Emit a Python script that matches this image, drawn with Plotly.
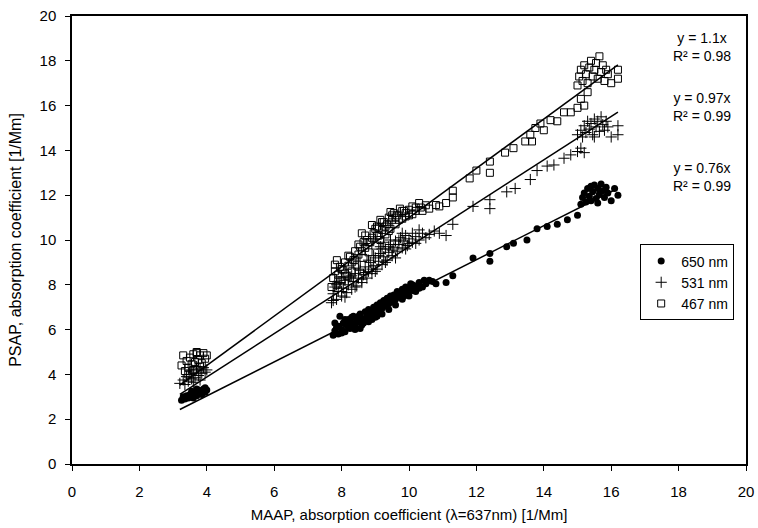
import plotly.graph_objects as go

# ---- data ----
x650 = [3.25, 3.35, 3.45, 3.5, 3.6, 3.65, 3.7, 3.75, 3.8, 3.85, 3.9, 3.95, 4.0, 3.55, 3.4, 3.3, 3.85, 3.7, 3.6, 3.95,
        7.75, 7.8, 7.85, 7.9, 7.95, 8.0, 8.05, 8.1, 8.15, 8.2, 8.25, 8.3, 8.35, 8.4, 8.45, 8.5, 8.55, 8.6, 8.65, 8.7,
        8.75, 8.8, 8.85, 8.9, 8.95, 9.0, 9.05, 9.1, 9.15, 9.2, 9.25, 9.3, 9.35, 9.4, 9.45, 9.5, 9.55, 9.6, 9.65, 9.7,
        9.75, 9.8, 9.85, 9.9, 9.95, 10.0, 10.05, 10.1, 10.2, 10.3, 10.4, 10.5, 10.6, 10.8, 11.1, 11.3, 11.9, 12.4,
        12.4, 12.9, 13.1, 13.5, 13.8, 14.1, 14.4, 14.7, 15.0,
        15.1, 15.15, 15.2, 15.25, 15.3, 15.35, 15.4, 15.45, 15.5, 15.55, 15.6, 15.65, 15.7, 15.75, 15.8, 15.85, 15.9,
        16.0, 16.1, 16.2, 15.4, 15.6,
        7.8, 7.9, 8.0, 8.1, 8.2, 8.3, 8.4, 8.5, 8.6, 8.7, 8.8, 8.9, 9.0, 9.1, 9.2, 9.3, 9.4, 9.5, 9.6, 9.7,
        9.8, 9.9, 10.0, 10.1, 10.2, 10.3, 10.45, 10.7, 9.05, 8.55]
y650 = [2.85, 2.9, 2.95, 3.1, 3.0, 3.2, 3.05, 3.3, 3.15, 3.25, 3.35, 3.2, 3.3, 3.25, 3.05, 3.0, 3.1, 3.35, 2.95, 3.4,
        5.75, 5.95, 6.1, 5.8, 6.6, 6.0, 6.3, 5.9, 6.2, 6.45, 6.05, 6.3, 6.6, 6.2, 6.45, 6.35, 6.7, 6.5, 6.3, 6.8,
        6.55, 6.9, 6.65, 6.45, 7.0, 6.75, 7.1, 6.85, 7.2, 6.95, 7.3, 7.05, 7.4, 7.15, 7.5, 7.25, 7.55, 7.35, 7.7, 7.45,
        7.6, 7.8, 7.5, 7.9, 7.65, 7.85, 8.05, 7.75, 7.95, 8.1, 7.9, 8.05, 8.2, 8.05, 8.1, 8.4, 9.2, 9.4,
        9.05, 9.7, 9.85, 10.0, 10.5, 10.6, 10.7, 10.9, 11.1,
        11.6, 11.9, 12.1, 11.7, 12.3, 11.95, 12.4, 12.15, 12.45, 11.85, 12.3, 12.05, 12.5, 12.2, 11.9, 12.35, 12.1,
        11.75, 12.3, 12.0, 11.75, 11.65,
        6.3, 6.15, 5.85, 6.45, 6.1, 6.55, 6.0, 6.6, 6.2, 6.5, 6.35, 6.8, 6.55, 7.05, 6.7, 7.25, 6.9, 7.4, 7.1, 7.6,
        7.35, 7.7, 7.5, 8.0, 7.7, 7.85, 8.2, 8.15, 6.6, 6.05]

x531 = [3.2, 3.3, 3.35, 3.4, 3.45, 3.5, 3.55, 3.6, 3.65, 3.7, 3.75, 3.8, 3.85, 3.9, 3.95, 4.0, 3.6, 3.8, 3.5, 3.7,
        7.7, 7.75, 7.8, 7.85, 7.9, 7.95, 8.0, 8.05, 8.1, 8.15, 8.2, 8.25, 8.3, 8.35, 8.4, 8.45, 8.5, 8.55, 8.6, 8.65,
        8.7, 8.75, 8.8, 8.85, 8.9, 8.95, 9.0, 9.05, 9.1, 9.15, 9.2, 9.25, 9.3, 9.35, 9.4, 9.45, 9.5, 9.55, 9.6, 9.65,
        9.7, 9.75, 9.8, 9.85, 9.9, 9.95, 10.0, 10.1, 10.2, 10.3, 10.4, 10.5, 10.6, 10.75, 10.9, 11.1, 11.3, 11.9,
        12.4, 12.4, 12.9, 13.15, 13.6, 13.8, 14.1, 14.3, 14.6, 14.8, 15.0, 15.1, 15.2,
        15.0, 15.1, 15.15, 15.2, 15.25, 15.3, 15.35, 15.4, 15.45, 15.5, 15.55, 15.6, 15.65, 15.7, 15.75, 15.8, 15.85,
        15.9, 16.0, 16.2, 16.2, 15.5,
        7.75, 7.85, 8.0, 8.1, 8.2, 8.3, 8.4, 8.5, 8.6, 8.7, 8.8, 8.9, 9.0, 9.1, 9.2, 9.3, 9.4, 9.5, 9.6, 9.7,
        9.8, 9.9, 10.0, 10.1, 10.2, 10.3, 9.15, 9.45, 8.95, 9.25]
y531 = [3.6, 3.75, 3.55, 3.9, 3.7, 4.0, 3.8, 4.1, 3.85, 4.2, 3.95, 4.25, 4.05, 4.3, 4.1, 4.2, 3.65, 3.75, 4.2, 4.35,
        7.2, 7.6, 7.9, 7.35, 7.7, 8.1, 7.5, 7.85, 8.2, 7.65, 8.0, 8.35, 7.8, 8.15, 8.5, 7.95, 8.3, 8.65, 8.1, 8.45,
        8.8, 8.3, 8.6, 9.0, 8.5, 8.85, 9.2, 8.7, 9.05, 9.4, 8.9, 9.25, 9.6, 9.1, 9.45, 9.8, 9.3, 9.65, 9.95, 9.5,
        9.8, 10.1, 9.65, 9.95, 10.2, 9.75, 10.05, 9.9, 10.15, 10.0, 10.3, 10.1, 10.25, 10.4, 10.3, 10.2, 10.7, 11.5,
        11.8, 11.4, 12.15, 12.3, 12.7, 13.1, 13.3, 13.35, 13.65, 13.8, 13.95, 14.1, 13.9,
        14.7, 14.9, 14.6, 15.1, 14.8, 15.3, 14.95, 15.2, 14.7, 15.4, 15.05, 15.3, 14.85, 15.5, 15.15, 14.9, 15.3,
        15.05, 14.6, 15.1, 14.7, 14.6,
        7.3, 8.0, 7.7, 7.45, 8.3, 8.4, 7.9, 8.7, 8.25, 8.55, 9.1, 8.7, 8.6, 9.3, 9.6, 9.0, 9.7, 9.55, 9.2, 10.0,
        10.3, 9.6, 9.85, 10.3, 9.85, 10.45, 9.7, 10.0, 9.3, 9.9]

x467 = [3.25, 3.3, 3.35, 3.4, 3.45, 3.5, 3.55, 3.6, 3.65, 3.7, 3.75, 3.8, 3.85, 3.9, 3.95, 4.0, 3.6, 3.8, 3.45, 3.7,
        7.7, 7.75, 7.8, 7.85, 7.86, 7.9, 7.95, 8.0, 8.05, 8.1, 8.15, 8.2, 8.25, 8.3, 8.35, 8.4, 8.45, 8.5, 8.6, 8.55,
        8.65, 8.7, 8.75, 8.8, 8.85, 8.9, 8.95, 9.0, 9.05, 9.1, 9.15, 9.2, 9.25, 9.3, 9.35, 9.4, 9.45, 9.5, 9.55, 9.6,
        9.65, 9.73, 9.8, 9.85, 9.9, 10.0, 10.1, 10.2, 10.3, 10.4, 10.5, 10.6, 10.8,
        10.9, 11.1, 11.3, 11.3, 11.8, 12.0, 12.4, 12.4, 12.85, 13.1, 13.45, 13.65, 13.6, 13.75, 13.9, 14.0, 14.2,
        14.4, 14.6, 14.8, 15.0, 15.2, 15.1, 15.3,
        15.0, 15.05, 15.1, 15.15, 15.2, 15.25, 15.3, 15.35, 15.4, 15.45, 15.5, 15.55, 15.6, 15.65, 15.7, 15.75, 15.8,
        15.85, 15.9, 16.0, 16.2, 16.2,
        7.8, 7.9, 8.0, 8.1, 8.2, 8.3, 8.4, 8.5, 8.6, 8.7, 8.8, 8.9, 9.0, 9.1, 9.2, 9.3, 9.4, 9.5, 9.6, 9.7,
        9.8, 9.9, 10.0, 10.1, 10.2, 10.35, 9.15, 8.65, 9.45, 9.05]
y467 = [4.4, 4.85, 4.15, 4.6, 4.3, 4.75, 4.45, 4.9, 4.55, 4.95, 4.65, 4.85, 4.5, 4.95, 4.7, 4.85, 4.2, 4.35, 4.0, 5.0,
        7.9, 8.3, 8.6, 8.0, 9.1, 8.45, 8.8, 8.2, 8.65, 9.0, 8.4, 8.85, 9.25, 8.6, 9.1, 9.5, 8.9, 9.35, 10.3, 9.7,
        9.2, 9.65, 10.0, 9.45, 9.9, 10.67, 10.3, 9.75, 10.2, 10.55, 10.0, 10.45, 10.8, 10.25, 10.7, 11.0, 10.5, 10.9,
        11.2, 10.7, 11.1, 11.4, 10.95, 11.3, 11.05, 11.35, 11.15, 11.45, 11.65, 11.3, 11.55, 11.4, 11.56,
        11.5, 11.65, 11.9, 12.2, 12.75, 13.1, 13.0, 13.5, 13.9, 14.1, 14.4, 14.4, 14.7, 15.0, 15.2, 14.9, 15.35,
        15.3, 15.7, 15.7, 15.9, 16.0, 16.3, 16.6,
        16.9, 17.3, 17.6, 17.1, 17.8, 17.4, 17.0, 17.7, 18.0, 17.3, 17.6, 17.9, 17.2, 18.2, 17.5, 17.8, 17.1,
        17.6, 17.4, 17.0, 17.6, 17.2,
        8.9, 8.2, 8.7, 8.5, 9.3, 9.0, 9.1, 9.8, 9.5, 10.2, 9.9, 10.1, 10.5, 10.2, 10.8, 10.6, 10.4, 11.1, 11.0, 10.9,
        11.3, 11.2, 11.1, 11.5, 11.3, 11.45, 10.9, 9.9, 11.25, 10.6]

slopes = [1.1, 0.97, 0.76]
r2 = [0.98, 0.99, 0.99]
fit_x = [3.2, 16.2]
ticks = [0, 2, 4, 6, 8, 10, 12, 14, 16, 18, 20]

FONT = "Liberation Sans, Arial, sans-serif"

fig = go.Figure()
fig.add_trace(go.Scatter(x=x650, y=y650, mode="markers", name="650 nm",
                         marker=dict(symbol="circle", size=7, color="black")))
fig.add_trace(go.Scatter(x=x531, y=y531, mode="markers", name="531 nm",
                         marker=dict(symbol="cross-thin", size=8, color="black",
                                     line=dict(color="black", width=1))))
fig.add_trace(go.Scatter(x=x467, y=y467, mode="markers", name="467 nm",
                         marker=dict(symbol="square-open", size=7, color="black",
                                     line=dict(color="black", width=1))))
for s in slopes:
    fig.add_trace(go.Scatter(x=fit_x, y=[s * v for v in fit_x], mode="lines",
                             line=dict(color="black", width=1.5), showlegend=False,
                             hoverinfo="skip"))

ann_y = [0.931, 0.796, 0.641]
for s, r, ay in zip(slopes, r2, ann_y):
    fig.add_annotation(x=0.935, y=ay, xref="paper", yref="paper",
                       xanchor="center", yanchor="middle",
                       text=f"y = {s}x<br>R² = {r}", showarrow=False,
                       font=dict(family=FONT, size=14, color="black"), align="center")

axis_common = dict(range=[0, 20], tickvals=ticks, showgrid=False, zeroline=False,
                   showline=True, linecolor="black", linewidth=1.5, mirror=True,
                   ticks="outside", ticklen=5, tickcolor="black", tickwidth=1,
                   automargin=False, ticklabeloverflow="allow",
                   tickfont=dict(family=FONT, size=15, color="black"))

fig.update_layout(
    width=758, height=528,
    margin=dict(l=72, r=12, t=16, b=64),
    paper_bgcolor="white", plot_bgcolor="white",
    font=dict(family=FONT, size=15, color="black"),
    xaxis=dict(**axis_common, ticklabelstandoff=8,
               title=dict(text="MAAP, absorption coefficient (λ=637nm) [1/Mm]",
                          font=dict(family=FONT, size=15, color="black"), standoff=11)),
    yaxis=dict(**axis_common, ticklabelstandoff=6,
               title=dict(text="PSAP, absorption coefficient [1/Mm]",
                          font=dict(family=FONT, size=16, color="black"), standoff=14)),
    legend=dict(x=0.843, y=0.49, xanchor="left", yanchor="top",
                bordercolor="black", borderwidth=1, bgcolor="white",
                font=dict(family=FONT, size=14, color="black"),
                tracegroupgap=0, itemwidth=30),
    showlegend=True,
)

# remove the default page margin so the 758x528 figure fills the window exactly
fig.write_html("out.html", config={"displayModeBar": False},
               post_script="document.body.style.margin='0';document.body.style.overflow='hidden';")
